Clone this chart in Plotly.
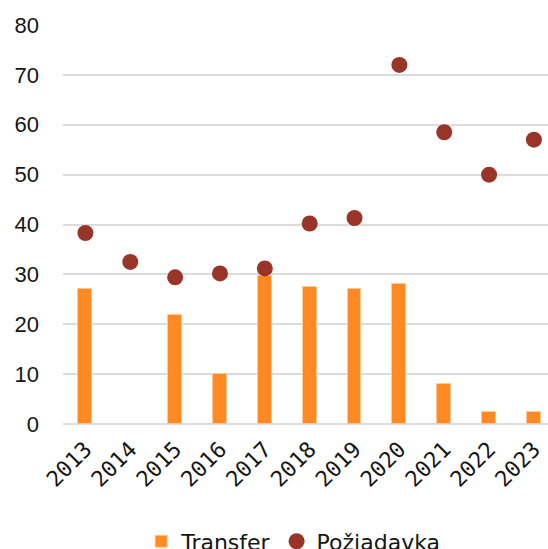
import plotly.graph_objects as go

# ── Data ──────────────────────────────────────────────────────────────────────
YEARS = ["2013", "2014", "2015", "2016", "2017", "2018",
         "2019", "2020", "2021", "2022", "2023"]
TRANSFER = [27.0, None, 21.8, 10.0, 29.7, 27.5, 27.1, 28.0, 8.0, 2.4, 2.4]
POZIADAVKA = [38.3, 32.5, 29.4, 30.2, 31.2, 40.2, 41.3, 72.0, 58.5, 50.0, 57.0]
Y_TICKS = [0, 10, 20, 30, 40, 50, 60, 70, 80]

# ── Style ─────────────────────────────────────────────────────────────────────
ORANGE = "#FF8A24"
ORANGE_EDGE = "#FFC894"
RED = "#993429"
GRID = "#DCDCDC"
TEXT = "#151515"
MONO = "'DejaVu Sans Mono', 'Liberation Mono', monospace"
SANS = "'DejaVu Sans', 'Liberation Sans', sans-serif"

fig = go.Figure()

fig.add_trace(go.Bar(
    x=YEARS,
    y=TRANSFER,
    name="Transfer",
    width=0.31,
    marker=dict(color=ORANGE, line=dict(color=ORANGE_EDGE, width=1)),
))

fig.add_trace(go.Scatter(
    x=YEARS,
    y=POZIADAVKA,
    name="Požiadavka",
    mode="markers",
    marker=dict(color=RED, size=16),
))

fig.update_layout(
    width=548,
    height=549,
    paper_bgcolor="white",
    plot_bgcolor="white",
    font=dict(family=SANS, size=20, color=TEXT),
    margin=dict(l=63, r=0, t=25, b=125),
    bargap=0,
    showlegend=True,
    legend=dict(
        orientation="h",
        xref="container", yref="container",
        x=0.535, xanchor="center",
        y=0.052, yanchor="top",
        font=dict(family=SANS, size=22, color=TEXT),
        itemwidth=30,
        tracegroupgap=0,
    ),
    xaxis=dict(
        type="category",
        range=[-0.5, 10.314],
        tickangle=-45,
        showgrid=False,
        showline=False,
        ticks="",
        automargin=False,
        ticklabelstandoff=7,
        tickfont=dict(family=MONO, size=22, color=TEXT),
    ),
    yaxis=dict(
        range=[0, 80],
        tickvals=Y_TICKS,
        showgrid=True,
        gridcolor=GRID,
        gridwidth=2,
        zeroline=True,
        zerolinecolor=GRID,
        zerolinewidth=2,
        showline=False,
        ticks="",
        automargin=False,
        ticklabelstandoff=23,
        tickfont=dict(family="'Liberation Sans', Arial, sans-serif", size=22, color=TEXT),
    ),
)

# drop the page's default body margin so the figure sits at the window's corner
fig.write_html(
    "out.html",
    config={"displayModeBar": False},
    post_script="document.body.style.margin='0';",
)
